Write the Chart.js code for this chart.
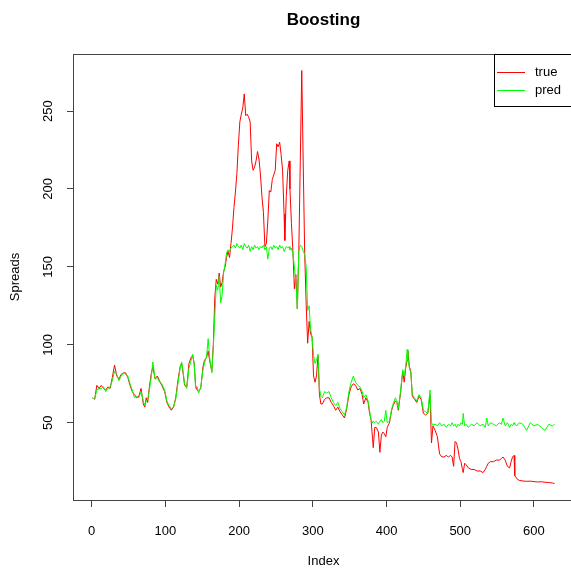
<!DOCTYPE html>
<html>
<head>
<meta charset="utf-8">
<title>Boosting</title>
<script src="https://cdn.jsdelivr.net/npm/chart.js@4.4.1/dist/chart.umd.min.js"></script>
<style>
  html, body { margin: 0; padding: 0; background: #fff; overflow: hidden; }
  #chart { display: block; }
</style>
</head>
<body>
<canvas id="chart" width="580" height="570"></canvas>
<script>
// values (Index, true spread, predicted spread)
const index = [1,4,7,10,13,16,19,22,25,28,31,34,37,40,43,46,49,52,55,58,61,64,67,70,72,74,76,78,81,83,86,89,92,95,99,102,105,108,111,114,117,120,122,124,
  126,129,132,135,137,139,141,143,145,148,151,153,156,158,160,163,165,167,169,171,173,175,177,179,181,183,185,
  187,189,191,193,195,197,199,201,203,205,207,209,211,213,215,217,219,221,223,225,227,229,231,233,235,237,239,241,243,245,247,249,251,253,255,257,259,261,262,264,266,
  268,269,271,273,275,277,279,281,283,285,287,289,291,293,295,297,299,301,303,305,307,309,311,313,316,319,322,325,328,331,334,337,340,343,346,349,352,355,358,361,364,367,369,372,375,377,379,
  381,382,384,386,389,391,393,395,397,399,401,404,407,409,412,414,416,419,422,424,426,428,429,431,433,435,438,441,444,447,450,453,456,459,461,463,466,469,472,475,478,481,484,487,489,491,493,495,497,499,
  501,503,504,506,508,511,515,519,523,527,531,534,536,538,541,545,549,553,556,558,561,564,567,569,571,573,574,577,580,585,590,595,600,605,610,615,620,625,628];

const trueSpreads = [66,65,74,72,74,72,71,73,72,79,87,80,78,81,82,82,79,74,70,68,66,67,72,62,60,66,63,72,82,86,78,80,77,74,70,63,60,58,60,66,77,86,88,82,
  74,73,88,92,93,88,74,71,70,72,86,90,92,96,90,83,100,130,142,139,146,137,140,147,150,156,160,
  156,165,175,188,198,210,228,243,248,252,261,247,248,246,243,218,212,214,218,224,219,209,195,185,163,165,180,199,198,206,209,212,229,227,230,222,212,184,167,195,212,
  218,200,178,160,136,145,123,160,218,276,216,158,126,101,115,107,105,80,76,80,93,68,62,62,65,66,66,63,61,58,60,57,55,53,59,68,73,75,74,71,72,68,62,66,63,56,52,
  40,34,47,47,44,31,42,44,43,41,47,50,58,61,64,63,58,69,83,76,85,90,96,86,83,67,65,63,67,65,56,55,56,68,37,48,45,41,30,28,28,29,28,29,28,22,38,37,33,27,
  25,20,18,24,23,21,20,20,19,19,18,20,22,24,25,25,26,26,27,28,26,22,21,25,28,29,16,14,13,12.6,12.4,12.5,12.2,12,12.1,11.8,11.6,11.3,11];

const predSpreads = [66,65,71,72,72,73,70,72,73,77,83,81,77,80,82,81,80,75,71,66,67,66,70,64,61,64,65,70,80,89,78,79,76,75,71,64,61,59,60,65,75,85,89,83,
  75,72,85,90,94,88,72,73,69,73,84,88,93,104,92,82,98,118,138,135,144,127,132,146,152,159,161,
  160,162,163,164,162,165,163,162,164,161,165,163,162,164,160,163,161,164,162,163,161,163,162,164,161,163,155,162,163,161,164,162,163,161,164,162,163,160,161,163,162,
  163,161,162,158,150,140,123,160,164,163,160,158,150,122,125,110,105,93,88,90,94,72,67,66,70,69,70,66,63,61,63,59,57,55,60,70,76,80,76,74,73,70,66,68,64,58,52,
  50,51,50,51,49,51,52,50,51,58,50,51,59,62,66,64,59,70,84,80,86,97,92,85,82,68,66,64,68,66,58,57,56,71,50,48.5,49,48,50,48,49,47,49,48,50,48,49,47,49,48,
  50,49,56,48,49,47,49,48,50,48,49,47,53,48,50,49,48,50,49,53,48,50,47,49,48,50,49,48,50,49,45,50,48,49,47,45,49,48,49];

const xTicks = [0, 100, 200, 300, 400, 500, 600];
const yTicks = [50, 100, 150, 200, 250];
const seriesNames = ['true', 'pred'];
const seriesColors = ['#ff0000', '#00ff00'];

const FONT = '"Liberation Sans", Arial, Helvetica, sans-serif';
Chart.defaults.font.family = FONT;
Chart.defaults.color = '#000';

// plot frame like base R's box()
const plotFrame = {
  id: 'plotFrame',
  afterDraw(chart) {
    const { ctx, chartArea: a } = chart;
    ctx.save();
    ctx.strokeStyle = '#444';
    ctx.lineWidth = 1;
    ctx.strokeRect(a.left - 0.5, a.top + 0.5, a.right - a.left, a.bottom - a.top);
    ctx.restore();
  }
};

// legend box in the top right corner of the plot
const boxLegend = {
  id: 'boxLegend',
  afterDraw(chart) {
    const { ctx, chartArea: a } = chart;
    const x = 494, y = a.top;
    ctx.save();
    ctx.fillStyle = '#fff';
    ctx.fillRect(x, y, 100, 52);
    ctx.strokeStyle = '#000';
    ctx.lineWidth = 1;
    ctx.strokeRect(x + 0.5, y + 0.5, 100, 52);
    ctx.font = '13px ' + FONT;
    ctx.textBaseline = 'middle';
    chart.data.datasets.forEach((ds, i) => {
      const ly = y + 18 + i * 18;
      ctx.strokeStyle = ds.borderColor;
      ctx.beginPath();
      ctx.moveTo(x + 3, ly + 0.5);
      ctx.lineTo(x + 31, ly + 0.5);
      ctx.stroke();
      ctx.fillStyle = '#000';
      ctx.fillText(ds.label, x + 41, ly);
    });
    ctx.restore();
  }
};

const ctx = document.getElementById('chart').getContext('2d');
new Chart(ctx, {
  type: 'line',
  data: {
    datasets: [{
      label: seriesNames[0],
      data: index.map((x, i) => ({ x: x, y: trueSpreads[i] })),
      borderColor: seriesColors[0],
      borderWidth: 1,
      pointRadius: 0,
      tension: 0,
      order: 1
    },
    {
      label: seriesNames[1],
      data: index.map((x, i) => ({ x: x, y: predSpreads[i] })),
      borderColor: seriesColors[1],
      borderWidth: 1,
      pointRadius: 0,
      tension: 0,
      order: 0
    }]
  },
  options: {
    responsive: false,
    animation: false,
    layout: {
      padding: { left: 0, right: 7, top: 0, bottom: 0 }
    },
    scales: {
      x: {
        type: 'linear',
        min: -24,
        max: 653,
        afterBuildTicks: scale => { scale.ticks = xTicks.map(v => ({ value: v })); },
        afterFit: scale => { scale.height = 70; },
        grid: {
          drawOnChartArea: false,
          drawTicks: true,
          tickLength: 7,
          color: '#444'
        },
        border: { display: false },
        ticks: {
          padding: 17,
          maxRotation: 0,
          autoSkip: false,
          color: '#000',
          font: { size: 13 }
        },
        title: {
          display: true,
          text: 'Index',
          color: '#000',
          font: { size: 13 },
          padding: { top: 0, bottom: 1 }
        }
      },
      y: {
        type: 'linear',
        min: 0.4,
        max: 286.6,
        afterBuildTicks: scale => { scale.ticks = yTicks.map(v => ({ value: v })); },
        afterFit: scale => { scale.width = 74; },
        grid: {
          drawOnChartArea: false,
          drawTicks: true,
          tickLength: 7,
          color: '#444'
        },
        border: { display: false },
        ticks: {
          minRotation: 90,
          maxRotation: 90,
          crossAlign: 'center',
          padding: 8,
          autoSkip: false,
          color: '#000',
          font: { size: 13 }
        },
        title: {
          display: true,
          text: 'Spreads',
          color: '#000',
          font: { size: 13 },
          padding: { top: 8, bottom: 0 }
        }
      }
    },
    plugins: {
      legend: { display: false },
      tooltip: { enabled: false },
      title: {
        display: true,
        fullSize: false,
        text: 'Boosting',
        color: '#000',
        font: { size: 17, weight: 'bold' },
        padding: { top: 10, bottom: 23.6 }
      }
    }
  },
  plugins: [plotFrame, boxLegend]
});
</script>
</body>
</html>
